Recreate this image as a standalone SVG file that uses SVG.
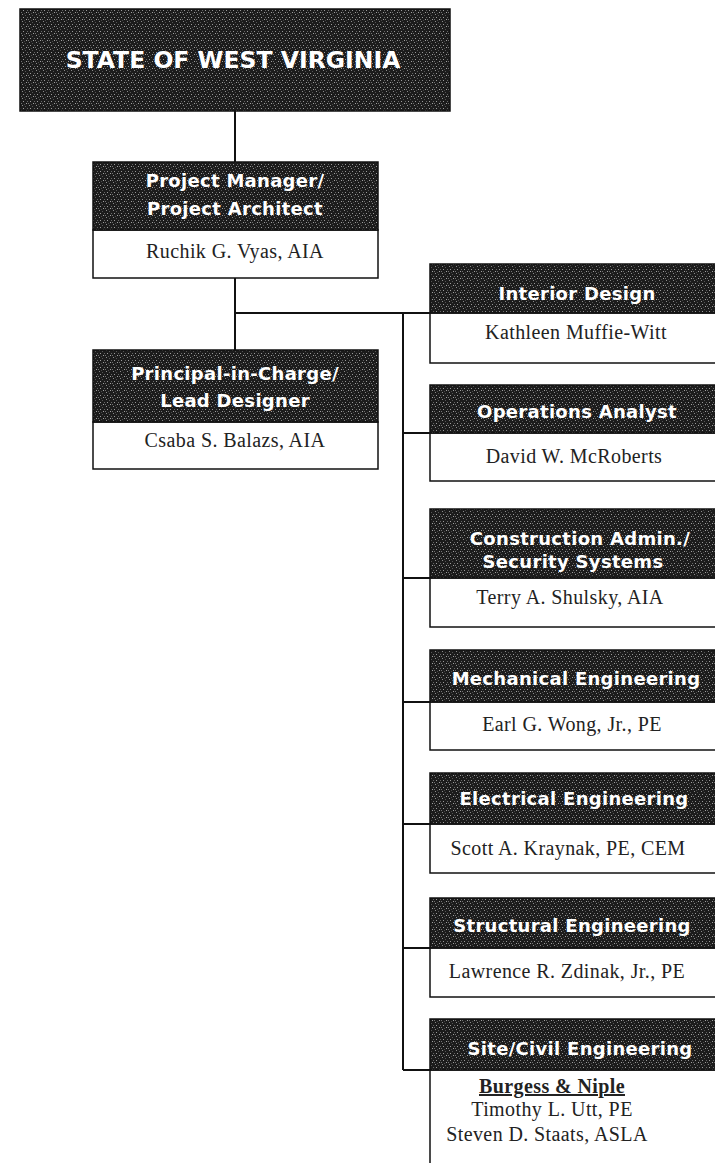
<svg xmlns="http://www.w3.org/2000/svg" width="715" height="1163" viewBox="0 0 715 1163">
<defs>
<pattern id="tex" width="7" height="7" patternUnits="userSpaceOnUse">
<rect width="7" height="7" fill="#1c1c1c"/>
<rect x="1" y="0" width="1" height="1" fill="#8a8a8a"/>
<rect x="4" y="1" width="1" height="1" fill="#555"/>
<rect x="2" y="3" width="1" height="1" fill="#9a9a9a"/>
<rect x="6" y="3" width="1" height="1" fill="#666"/>
<rect x="0" y="5" width="1" height="1" fill="#707070"/>
<rect x="5" y="5" width="1" height="1" fill="#a0a0a0"/>
<rect x="3" y="6" width="1" height="1" fill="#4a4a4a"/>
</pattern>
<style>
.dark{fill:url(#tex);stroke:#111;stroke-width:1.5}
.white{fill:#fff;stroke:#111;stroke-width:1.5}
.hd{font-family:"DejaVu Sans",sans-serif;font-weight:bold;font-size:18px;fill:#fff;text-anchor:middle;letter-spacing:0.3px}
.nm{font-family:"Liberation Serif",serif;font-size:20px;fill:#222;text-anchor:middle;letter-spacing:0.4px}
.ln{stroke:#111;stroke-width:2;fill:none}
</style>
</defs>
<g id="connectors">
<path class="ln" d="M235 111 V162"/>
<path class="ln" d="M235 278 V350"/>
<path class="ln" d="M235 313 H430"/>
<path class="ln" d="M403 313 V1070"/>
<path class="ln" d="M403 433 H430"/>
<path class="ln" d="M403 578 H430"/>
<path class="ln" d="M403 702 H430"/>
<path class="ln" d="M403 824 H430"/>
<path class="ln" d="M403 948 H430"/>
<path class="ln" d="M403 1070 H430"/>
</g>
<g id="state">
<rect class="dark" x="20" y="9" width="430" height="102"/>
<text x="233" y="68" style="font-family:'DejaVu Sans',sans-serif;font-weight:bold;font-size:23.5px;fill:#fff;text-anchor:middle">STATE OF WEST VIRGINIA</text>
</g>
<g id="pm">
<rect class="white" x="93" y="230" width="285" height="48"/>
<rect class="dark" x="93" y="162" width="285" height="68"/>
<text class="hd" x="235" y="187">Project Manager/</text>
<text class="hd" x="235" y="215">Project Architect</text>
<text class="nm" x="235" y="258">Ruchik G. Vyas, AIA</text>
</g>
<g id="principal">
<rect class="white" x="93" y="422" width="285" height="47"/>
<rect class="dark" x="93" y="350" width="285" height="72"/>
<text class="hd" x="235" y="380">Principal-in-Charge/</text>
<text class="hd" x="235" y="407">Lead Designer</text>
<text class="nm" x="235" y="447">Csaba S. Balazs, AIA</text>
</g>
<g id="interior">
<rect class="white" x="430" y="313" width="292" height="50"/>
<rect class="dark" x="430" y="264" width="292" height="49"/>
<text class="hd" x="577" y="300">Interior Design</text>
<text class="nm" x="576" y="339">Kathleen Muffie-Witt</text>
</g>
<g id="operations">
<rect class="white" x="430" y="433" width="292" height="48"/>
<rect class="dark" x="430" y="385" width="292" height="48"/>
<text class="hd" x="577" y="418">Operations Analyst</text>
<text class="nm" x="574" y="463">David W. McRoberts</text>
</g>
<g id="construction">
<rect class="white" x="430" y="578" width="292" height="49"/>
<rect class="dark" x="430" y="509" width="292" height="69"/>
<text class="hd" x="580" y="545">Construction Admin./</text>
<text class="hd" x="573" y="568">Security Systems</text>
<text class="nm" x="570" y="604">Terry A. Shulsky, AIA</text>
</g>
<g id="mechanical">
<rect class="white" x="430" y="702" width="292" height="48"/>
<rect class="dark" x="430" y="650" width="292" height="52"/>
<text class="hd" x="576" y="685">Mechanical Engineering</text>
<text class="nm" x="572" y="731">Earl G. Wong, Jr., PE</text>
</g>
<g id="electrical">
<rect class="white" x="430" y="824" width="292" height="49"/>
<rect class="dark" x="430" y="773" width="292" height="51"/>
<text class="hd" x="574" y="805">Electrical Engineering</text>
<text class="nm" x="568" y="855">Scott A. Kraynak, PE, CEM</text>
</g>
<g id="structural">
<rect class="white" x="430" y="948" width="292" height="49"/>
<rect class="dark" x="430" y="898" width="292" height="50"/>
<text class="hd" x="572" y="932">Structural Engineering</text>
<text class="nm" x="567" y="978">Lawrence R. Zdinak, Jr., PE</text>
</g>
<g id="sitecivil">
<rect class="white" x="430" y="1070" width="292" height="110"/>
<rect class="dark" x="430" y="1019" width="292" height="51"/>
<text class="hd" x="580" y="1055">Site/Civil Engineering</text>
<text class="nm" x="552" y="1093" style="font-weight:bold;text-decoration:underline">Burgess &amp; Niple</text>
<text class="nm" x="552" y="1116">Timothy L. Utt, PE</text>
<text class="nm" x="547" y="1141">Steven D. Staats, ASLA</text>
</g>
</svg>
